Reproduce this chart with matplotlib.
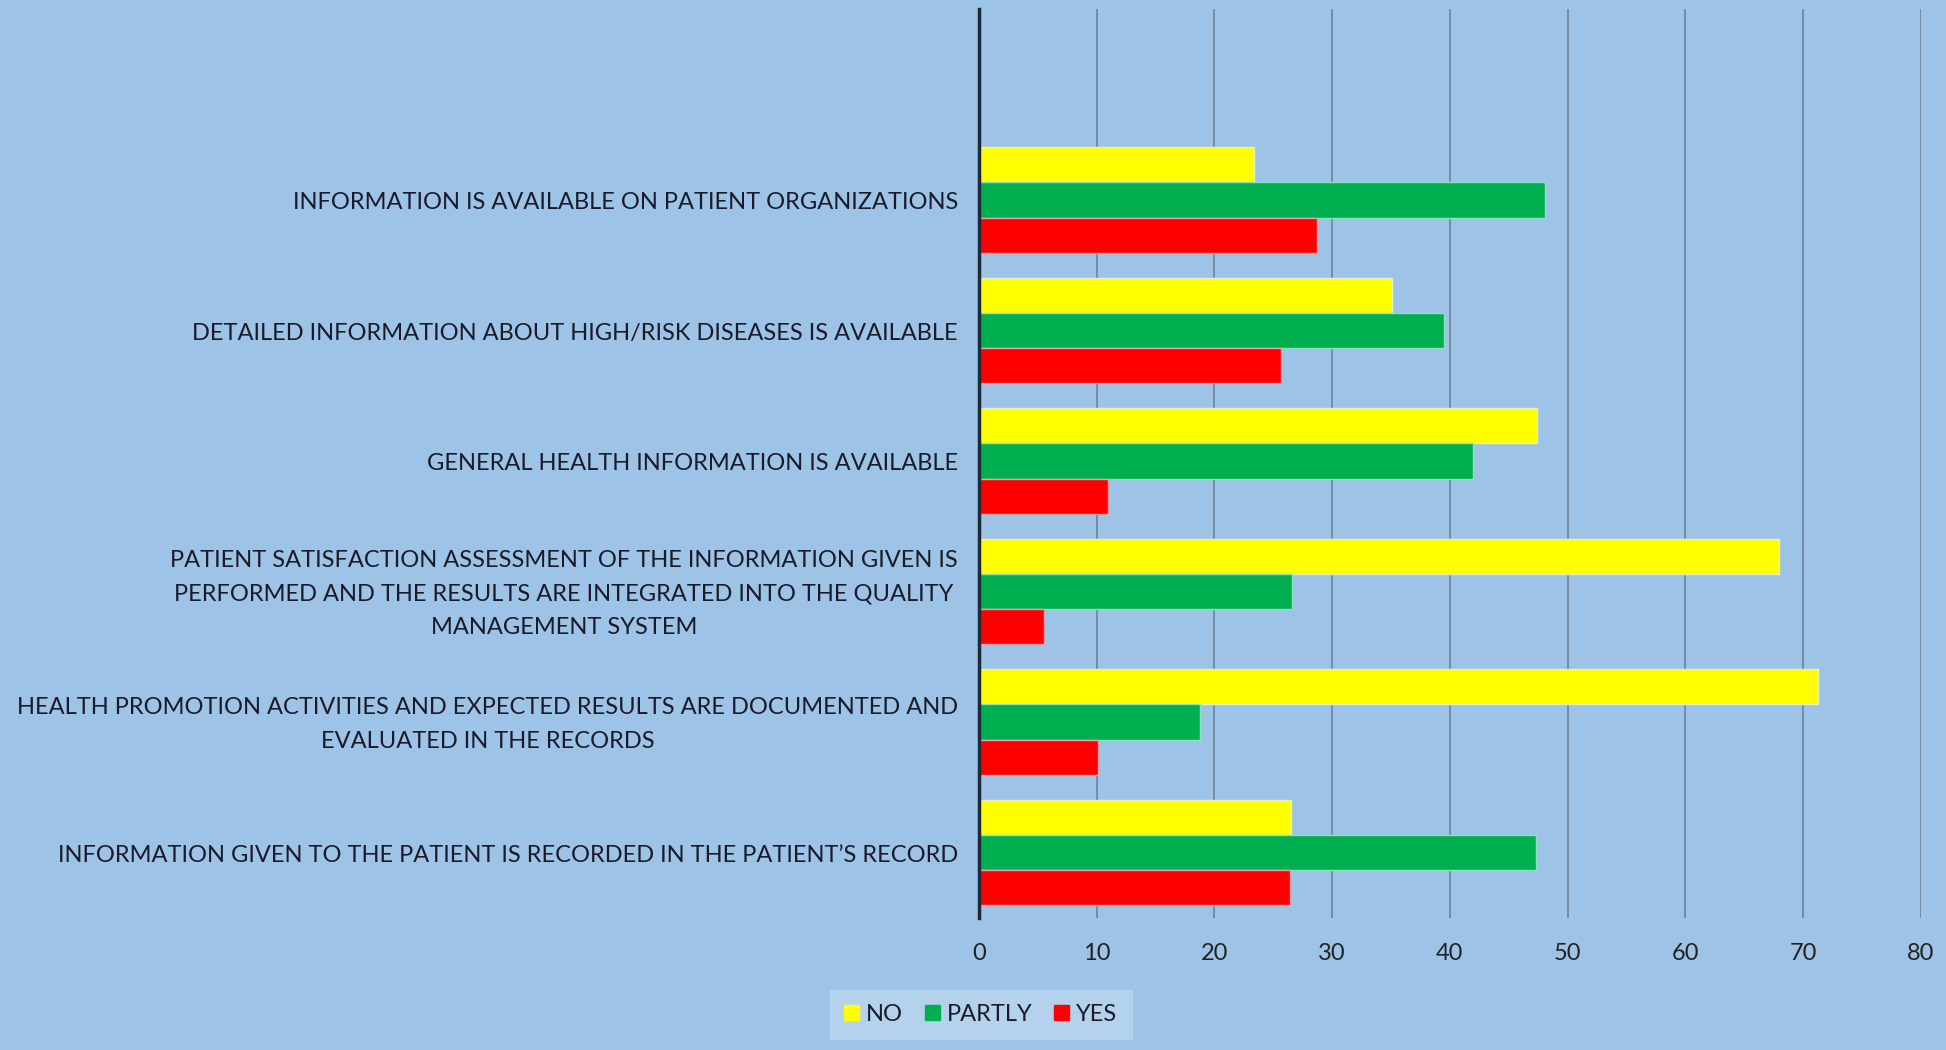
import numpy as np
import matplotlib.pyplot as plt
from matplotlib.patches import Patch

# categories listed bottom -> top
categories = [
    "INFORMATION GIVEN TO THE PATIENT IS RECORDED IN THE PATIENT\u2019S RECORD",
    "HEALTH PROMOTION ACTIVITIES AND EXPECTED RESULTS ARE DOCUMENTED AND\nEVALUATED IN THE RECORDS",
    "PATIENT SATISFACTION ASSESSMENT OF THE INFORMATION GIVEN IS\nPERFORMED AND THE RESULTS ARE INTEGRATED INTO THE QUALITY\nMANAGEMENT SYSTEM",
    "GENERAL HEALTH INFORMATION IS AVAILABLE",
    "DETAILED INFORMATION ABOUT HIGH/RISK DISEASES IS AVAILABLE",
    "INFORMATION IS AVAILABLE ON PATIENT ORGANIZATIONS",
]
no_vals = [26.5, 71.3, 68.0, 47.4, 35.1, 23.4]
partly_vals = [47.3, 18.8, 26.6, 42.0, 39.5, 48.1]
yes_vals = [26.4, 10.1, 5.5, 11.0, 25.7, 28.7]
xticks = [0, 10, 20, 30, 40, 50, 60, 70, 80]

bg = "#9DC3E6"
fam = ["Lato", "DejaVu Sans"]

fig = plt.figure(figsize=(19.46, 10.5), dpi=100, facecolor=bg)
ax = fig.add_axes([0.503, 0.126, 0.484, 0.865])
ax.set_facecolor(bg)

y = np.arange(len(categories))
h = 0.27
ax.barh(y + h, no_vals, height=h, color="#FFFF00", edgecolor="#E8F0C0", linewidth=1)
ax.barh(y, partly_vals, height=h, color="#00B050", edgecolor="#8FE0C0", linewidth=1)
ax.barh(y - h, yes_vals, height=h, color="#FF0000", edgecolor="#E8A0B0", linewidth=1)

ax.set_xlim(0, 80)
ax.set_ylim(-0.5, 6.46)
ax.set_xticks(xticks)
ax.set_xticklabels([str(t) for t in xticks], fontsize=17, family=fam, color="#222222")
ax.set_yticks(y)
ax.set_yticklabels([])
# category labels drawn by hand so the line spacing can be set
for yi, lab in zip(y, categories):
    ax.annotate(lab, xy=(0, yi), xycoords=("axes fraction", "data"),
                xytext=(-15, -2), textcoords="offset points",
                ha="right", va="center", multialignment="center",
                linespacing=1.75, fontsize=17, family=fam, color="#1a1a2a")
ax.tick_params(axis="both", length=0)
ax.tick_params(axis="x", pad=18)
ax.grid(axis="x", color="#6f8499", linewidth=1.2)
ax.set_axisbelow(True)
for s in ["top", "right", "bottom"]:
    ax.spines[s].set_visible(False)
ax.spines["left"].set_color("#1f2a36")
ax.spines["left"].set_linewidth(2.5)
ax.spines["left"].set_zorder(5)

handles = [Patch(color="#FFFF00"), Patch(color="#00B050"), Patch(color="#FF0000")]
leg = fig.legend(handles, ["NO", "PARTLY", "YES"], loc="center",
                 bbox_to_anchor=(0.504, 0.034), ncol=3, frameon=True,
                 prop={"family": fam, "size": 17}, handlelength=0.65,
                 handleheight=0.65, handletextpad=0.3, columnspacing=0.9,
                 borderpad=0.6, fancybox=False)
leg.get_frame().set_facecolor("#BAD6EE")
leg.get_frame().set_edgecolor("#BAD6EE")
for t in leg.get_texts():
    t.set_color("#1a1a2a")

fig.savefig("out.png", dpi=100, facecolor=bg)
